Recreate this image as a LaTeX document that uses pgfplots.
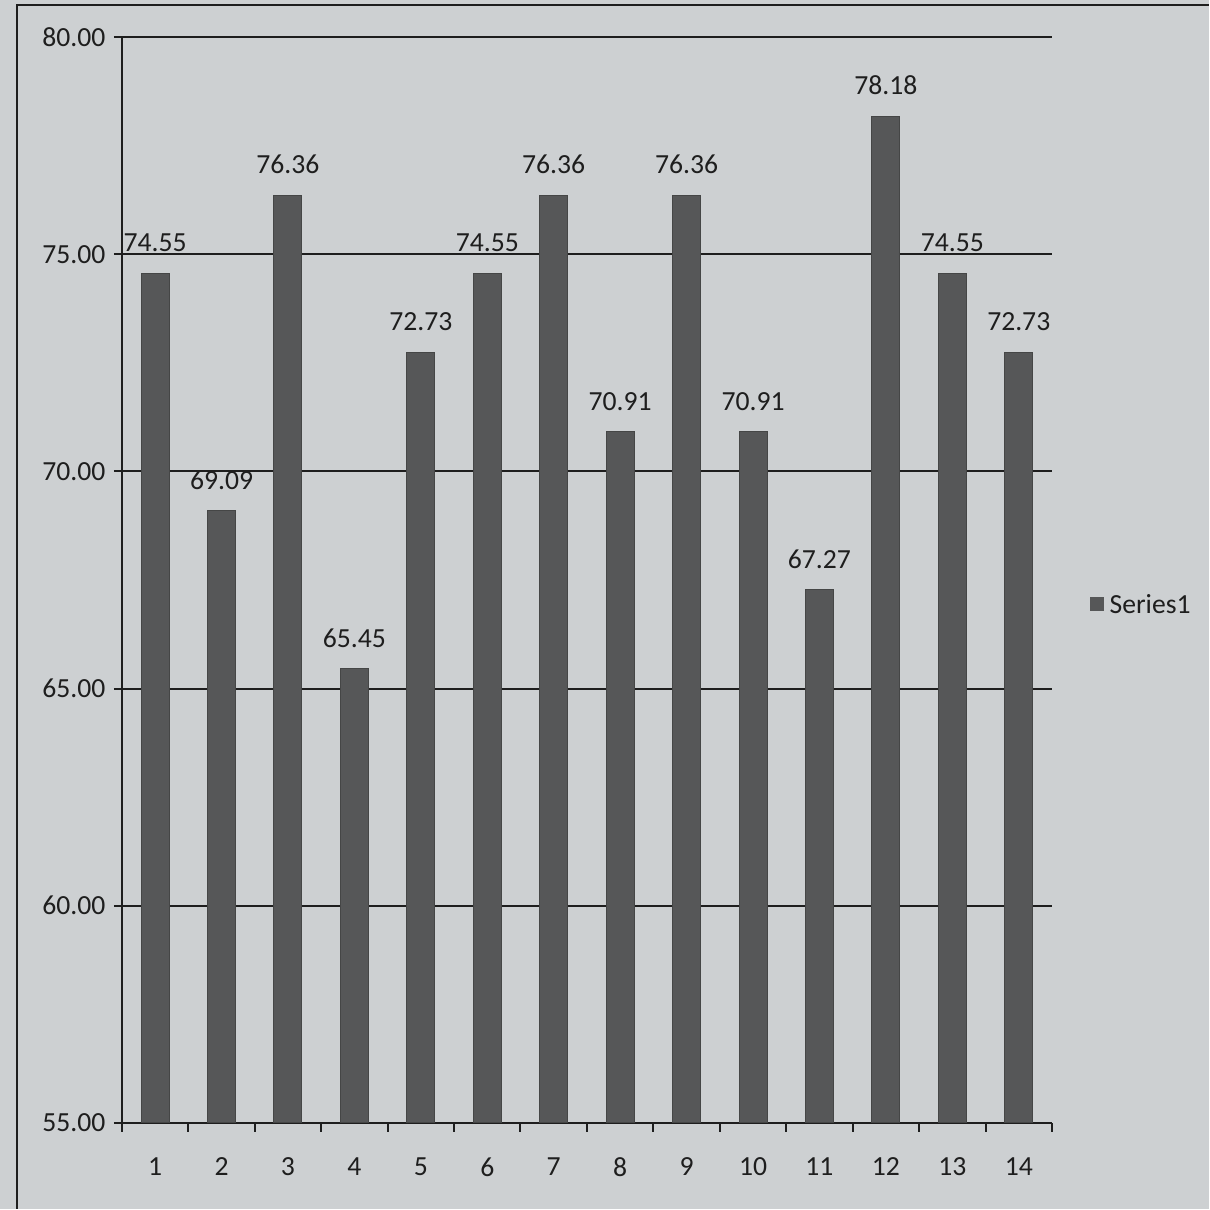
\documentclass[border=0pt]{standalone}
\usepackage{fontspec}
\setmainfont{Carlito}
\usepackage{pgfplots}
\pgfplotsset{compat=1.18}
\definecolor{paper}{HTML}{CDD0D2}
\definecolor{barc}{HTML}{565758}
\definecolor{ink}{HTML}{1E1E1E}
\begin{document}
\begin{tikzpicture}[x=0.3pt,y=0.3pt]
\fill[paper] (0,0) rectangle (1210,1210);
\draw[ink,line width=0.7pt] (17,0) -- (17,1205) -- (1210,1205);
\begin{axis}[
  at={(36.6pt,25.8pt)}, anchor=south west,
  scale only axis, width=279.3pt, height=326.1pt,
  xmin=0.5, xmax=14.5, ymin=55, ymax=80,
  ytick={55,60,...,80},
  yticklabel style={/pgf/number format/fixed,/pgf/number format/fixed zerofill,/pgf/number format/precision=2},
  /pgf/number format/assume math mode=true,
  xtick={1,...,14},
  minor xtick={0.5,1.5,...,14.5},
  major x tick style={draw=none},
  minor x tick style={ink,line width=0.6pt},
  minor tick length=2.6pt,
  major tick length=2.4pt,
  tick align=outside,
  xtick pos=bottom, ytick pos=left,
  y tick style={ink,line width=0.6pt},
  axis x line*=bottom, axis y line*=left,
  axis line style={ink,line width=0.7pt,-},
  ymajorgrids, grid style={ink,line width=0.6pt},
  tick label style={font=\fontsize{8.3}{10}\selectfont,text=ink},
  yticklabel style={xshift=1pt},
  xticklabel style={yshift=-4.5pt},
  ybar, bar width=8.4pt,
  nodes near coords,
  every node near coord/.append style={font=\fontsize{8.3}{10}\selectfont,text=ink,yshift=3pt},
  nodes near coords style={/pgf/number format/fixed,/pgf/number format/fixed zerofill,/pgf/number format/precision=2,/pgf/number format/assume math mode=true},
  clip=false,
]
\addplot[fill=barc,draw=barc!80!black,line width=0.3pt] coordinates {
(1,74.55) (2,69.09) (3,76.36) (4,65.45) (5,72.73) (6,74.55) (7,76.36)
(8,70.91) (9,76.36) (10,70.91) (11,67.27) (12,78.18) (13,74.55) (14,72.73)};
\end{axis}
\fill[barc] (1091,598) rectangle (1105,612);
\node[anchor=west,font=\fontsize{8.3}{10}\selectfont,text=ink,inner sep=0pt] at (1110,605) {Series1};
\end{tikzpicture}
\end{document}
